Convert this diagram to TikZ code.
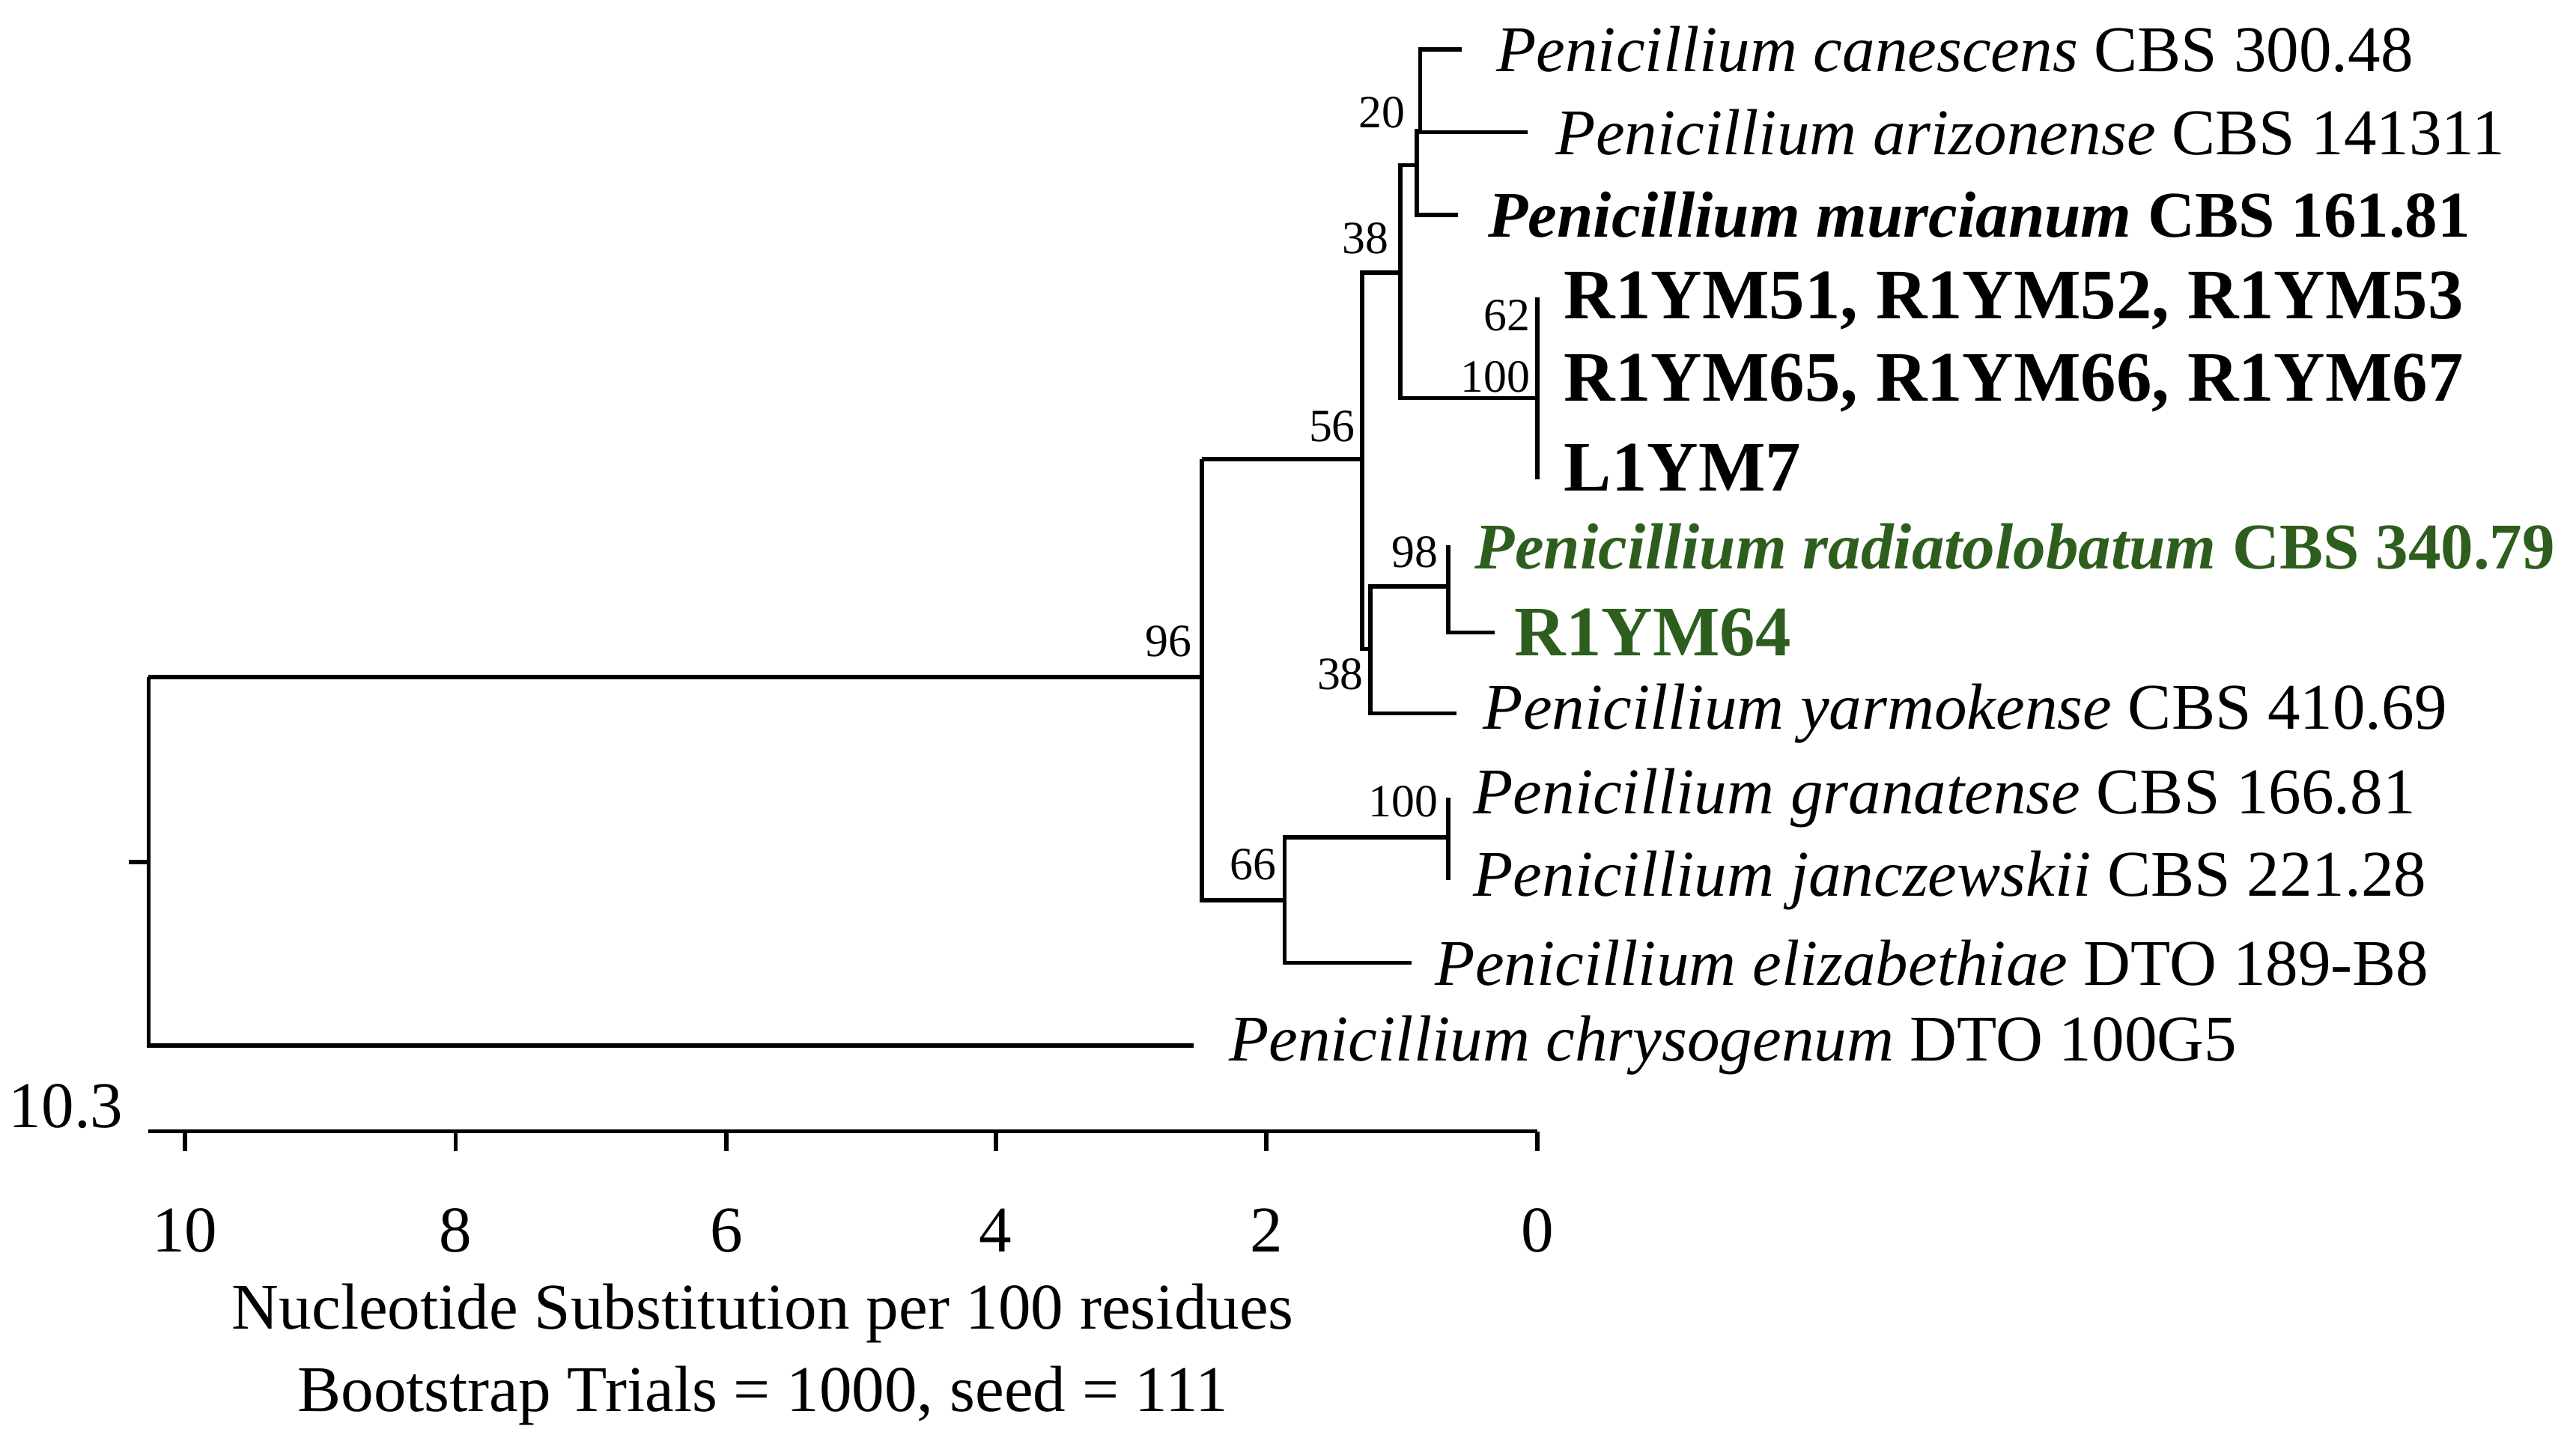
\documentclass[tikz,border=0pt]{standalone}
\usepackage{fontspec}
\setmainfont{Liberation Serif}
\definecolor{grn}{HTML}{2E5E1E}
\begin{document}
\begin{tikzpicture}[x=1pt,y=-1pt,line width=2.6pt,
  tx/.style={anchor=west,inner sep=0pt,font=\fontsize{39.5}{42}\selectfont},
  txb/.style={anchor=west,inner sep=0pt,font=\fontsize{39.5}{42}\selectfont\bfseries},
  bx/.style={anchor=west,inner sep=0pt,font=\fontsize{43}{46}\selectfont\bfseries},
  bs/.style={anchor=south east,inner sep=1pt,font=\fontsize{28}{30}\selectfont},
  ax/.style={inner sep=0pt,font=\fontsize{39.5}{42}\selectfont}]
\useasboundingbox (0,0) rectangle (1560,865);
% leaves
\node[tx] (t1) at (905,30) {\itshape Penicillium canescens\upshape{} CBS 300.48};
\node[tx] (t2) at (941,80) {\itshape Penicillium arizonense\upshape{} CBS 141311};
\node[txb] (t3) at (900,130) {\itshape Penicillium murcianum\upshape{} CBS 161.81};
\node[bx] (t4) at (946,182) {R1YM51, R1YM52, R1YM53};
\node[bx] (t5) at (946,232) {R1YM65, R1YM66, R1YM67};
\node[bx] (t6) at (946,283) {L1YM7};
\node[txb,text=grn] (t7) at (892,331) {\itshape Penicillium radiatolobatum\upshape{} CBS 340.79};
\node[bx,text=grn] (t8) at (916,383) {R1YM64};
\node[tx] (t9) at (897,432) {\itshape Penicillium yarmokense\upshape{} CBS 410.69};
\node[tx] (t10) at (891,483) {\itshape Penicillium granatense\upshape{} CBS 166.81};
\node[tx] (t11) at (891,533) {\itshape Penicillium janczewskii\upshape{} CBS 221.28};
\node[tx] (t12) at (868,583) {\itshape Penicillium elizabethiae\upshape{} DTO 189-B8};
\node[tx] (t13) at (743,633) {\itshape Penicillium chrysogenum\upshape{} DTO 100G5};
% tree
\draw (885,30) -| (860,80);
\draw (925,80) -- (858,80);
\draw (858,78) |- (883,130);
\draw (858,100) -- (848,100) |- (931,241);
\draw (931,180) -- (931,290);
\draw (848,165) -- (825,165) -- (825,393) -- (830,393);
\draw (877,355) -| (830,432) -- (882,432);
\draw (877,330) |- (905,383);
\draw (728,278) -- (825,278);
\draw (90,410) -- (728,410);
\draw (728,278) |- (778,545);
\draw (877,507) -| (778,583) -- (855,583);
\draw (877,483) -- (877,533);
\draw (723,633) -| (90,410);
\draw (78,522) -- (90,522);
% bootstrap
\node[bs] (b1) at (853,80) {20};
\node[bs] (b2) at (843,156) {38};
\node[bs] (b3) at (929,203) {62};
\node[bs] (b4) at (929,240) {100};
\node[bs] (b5) at (823,270) {56};
\node[bs] (b6) at (873,346) {98};
\node[bs] (b7) at (828,420) {38};
\node[bs] (b8) at (724,400) {96};
\node[bs] (b9) at (873,497) {100};
\node[bs] (b10) at (775,535) {66};
% axis
\draw (90,685) -- (931,685);
\foreach \x/\l in {112/10,276/8,440/6,603/4,767/2,931/0}{
  \draw (\x,685) -- (\x,697);
  \node[ax] at (\x,745) {\l};}
\node[ax] (sc) at (40,670) {10.3};
\node[ax] (c1) at (462,795) {Nucleotide Substitution per 100 residues};
\node[ax] (c2) at (462,845) {Bootstrap Trials = 1000, seed = 111};
\end{tikzpicture}
\end{document}
